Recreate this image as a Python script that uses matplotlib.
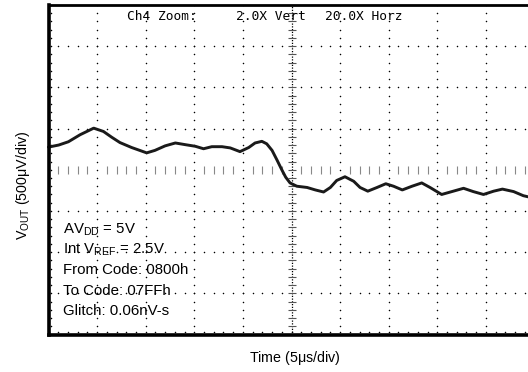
import numpy as np
import matplotlib.pyplot as plt

plt.rcParams['font.family'] = ['Liberation Sans', 'DejaVu Sans']
plt.rcParams['mathtext.fontset'] = 'custom'
plt.rcParams['mathtext.rm'] = 'Liberation Sans'
plt.rcParams['mathtext.it'] = 'Liberation Sans'

# time in divisions (5us/div), vout in divisions (500uV/div)
t_div = [0.00, 0.21, 0.41, 0.65, 0.93, 1.13, 1.30, 1.47, 1.71, 2.02, 2.19, 2.40,
         2.61, 2.81, 3.02, 3.19, 3.36, 3.57, 3.74, 3.94, 4.12, 4.25, 4.39, 4.49,
         4.60, 4.70, 4.80, 4.88, 4.97, 5.11, 5.32, 5.49, 5.66, 5.80, 5.93, 6.10,
         6.28, 6.41, 6.57, 6.76, 6.94, 7.10, 7.28, 7.48, 7.68, 7.85, 8.09, 8.30,
         8.54, 8.74, 8.95, 9.16, 9.34, 9.57, 9.77, 9.88, 10.0]
vout_div = [0.55, 0.60, 0.68, 0.85, 1.01, 0.93, 0.79, 0.66, 0.54, 0.41, 0.47, 0.58,
            0.65, 0.61, 0.57, 0.51, 0.56, 0.56, 0.53, 0.44, 0.54, 0.65, 0.69, 0.63,
            0.47, 0.24, 0.00, -0.18, -0.32, -0.40, -0.43, -0.49, -0.54, -0.43, -0.26, -0.17,
            -0.28, -0.43, -0.52, -0.43, -0.34, -0.40, -0.49, -0.40, -0.32, -0.43, -0.60, -0.53,
            -0.45, -0.53, -0.60, -0.52, -0.47, -0.53, -0.63, -0.66, -0.68]

info_lines = [r'AV$_{\mathrm{DD}}$ = 5V', r'Int V$_{\mathrm{REF}}$ = 2.5V',
              'From Code: 0800h', 'To Code: 07FFh', 'Glitch: 0.06nV-s']

W, H = 528, 372
fig = plt.figure(figsize=(W / 100, H / 100), dpi=100)
# plot area runs past the right edge of the picture, as in the original
ax = fig.add_axes([48.5 / W, 1 - 334.5 / H, 486 / W, 329.5 / H])
ax.set_xlim(0, 10)
ax.set_ylim(-4, 4)

minor_x = np.arange(0, 10.01, 0.2)
minor_y = np.arange(-4, 4.01, 0.2)

# dotted graticule
for gx in range(1, 10):
    if gx == 5:
        continue
    ax.plot(np.full(len(minor_y), gx), minor_y, ls='none', marker='o', ms=1.1,
            mec='none', mfc='black')
for gy in range(-3, 4):
    if gy == 0:
        continue
    ax.plot(minor_x, np.full(len(minor_x), gy), ls='none', marker='o', ms=1.1,
            mec='none', mfc='black')

# centre lines with minor tick marks
ax.plot([5, 5], [-4, 4], color='black', lw=0.9, ls=(0, (1, 1.2)))
ax.plot(np.full(len(minor_y), 5), minor_y, ls='none', marker='_', ms=6,
        mew=0.8, color='#555555')
cx = [x for x in minor_x if abs(x - round(x)) > 0.05]
ax.plot(cx, np.zeros(len(cx)), ls='none', marker='|', ms=6, mew=0.8,
        color='#888888')

# edge tick dots
ax.plot(minor_x, np.full(len(minor_x), -3.93), ls='none', marker='o', ms=1.1,
        mec='none', mfc='black')
ax.plot(np.full(len(minor_y), 0.05), minor_y, ls='none', marker='o', ms=1.1,
        mec='none', mfc='black')

ax.plot(t_div, vout_div, color='#1a1a1a', lw=2.1, solid_joinstyle='round',
        solid_capstyle='round', clip_on=False)

ax.set_xticks([])
ax.set_yticks([])
for side in ['left', 'bottom']:
    ax.spines[side].set_linewidth(2.6)
ax.spines['top'].set_linewidth(2.0)
ax.spines['right'].set_visible(False)

# scope header
mono = dict(family='DejaVu Sans Mono', fontsize=9.3, va='center', ha='left')
fig.text(127 / W, 1 - 16 / H, 'Ch4 Zoom:', **mono)
fig.text(236.5 / W, 1 - 16 / H, '2.0X Vert', **mono)
fig.text(325 / W, 1 - 16 / H, '20.0X Horz', **mono)

base = 233.5
for i, line in enumerate(info_lines):
    fig.text(63 / W, 1 - (base + 20.4 * i) / H, line, fontsize=10.8,
             ha='left', va='baseline')

fig.text(23 / W, 1 - 185 / H, r'V$_{\mathrm{OUT}}$ (500$\mu$V/div)', rotation=90,
         fontsize=10.3, ha='center', va='center')
fig.text(295 / W, 1 - 358 / H, r'Time (5$\mu$s/div)', fontsize=10.3,
         ha='center', va='center')

fig.savefig('out.png', dpi=100)
